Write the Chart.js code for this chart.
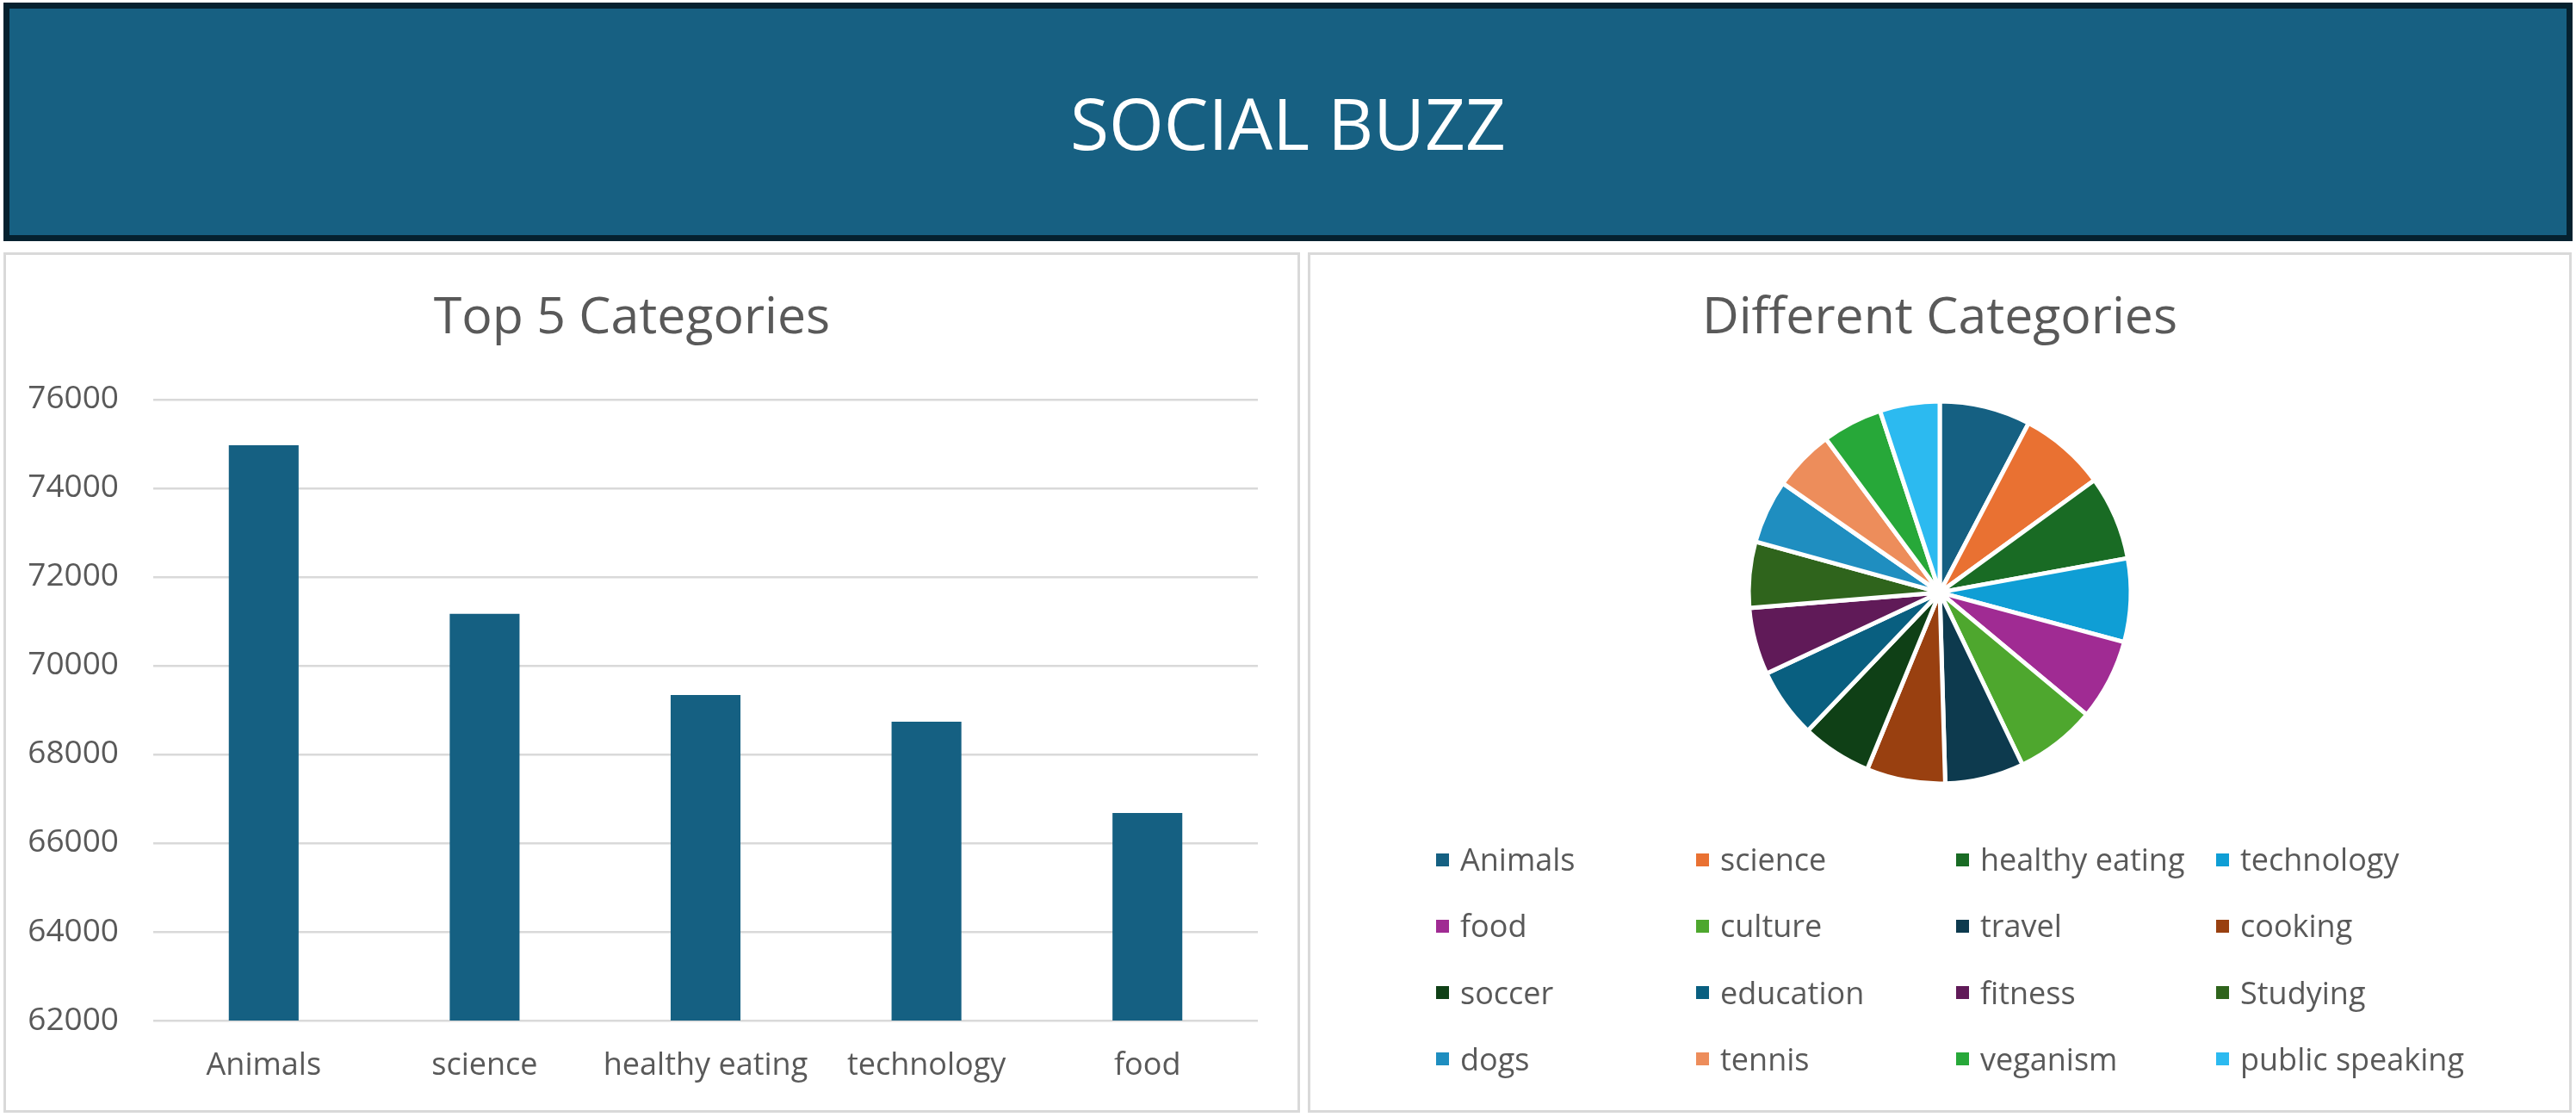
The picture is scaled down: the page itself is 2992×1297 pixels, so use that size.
<!DOCTYPE html>
<html><head><meta charset="utf-8">
<script src="https://cdn.jsdelivr.net/npm/chart.js@4.4.1/dist/chart.umd.min.js"></script>
<style>
html,body{margin:0;padding:0;background:#fff;}
body{width:2992px;height:1297px;position:relative;overflow:hidden;font-family:'Open Sans',sans-serif;}
#header{position:absolute;left:4px;top:3px;width:2984px;height:277px;box-sizing:border-box;background:#176082;border:7px solid #05212f;display:flex;align-items:center;justify-content:center;color:#fff;font-size:82px;}
.panel{position:absolute;top:293px;height:999px;box-sizing:border-box;border:3px solid #d9d9d9;background:#fff;}
#left{left:4px;width:1506px;}
#right{left:1519px;width:1468px;}
.panel canvas{position:absolute;left:0;top:0;}
.leg{position:absolute;height:40px;line-height:40px;display:flex;align-items:center;font-size:36px;color:#595959;white-space:nowrap;}
.leg i{display:inline-block;width:15px;height:15px;margin-right:13px;flex:none;}
</style></head>
<body>
<div id="header">SOCIAL BUZZ</div>
<div class="panel" id="left"><canvas id="bar" width="1500" height="993"></canvas></div>
<div class="panel" id="right"><canvas id="pie" width="1462" height="993"></canvas></div>
<div id="legend"></div>
<script>
const categories = ['Animals', 'science', 'healthy eating', 'technology', 'food'];
const topValues = [74965, 71168, 69339, 68738, 66676];
const yTickValues = [62000, 64000, 66000, 68000, 70000, 72000, 74000, 76000];
const pieLabels = ['Animals', 'science', 'healthy eating', 'technology', 'food', 'culture', 'travel', 'cooking', 'soccer', 'education', 'fitness', 'Studying', 'dogs', 'tennis', 'veganism', 'public speaking'];
const pieValues = [74965, 71168, 69339, 68738, 66676, 66579, 64880, 64756, 57783, 57436, 55323, 54269, 52511, 50339, 49619, 49264];
const pieColors = ['#156082', '#E97132', '#196B24', '#0F9ED5', '#A02B93', '#4EA72E', '#0D3A4E', '#994010', '#0F4016', '#095F80', '#601A58', '#2F641C', '#1F8EC0', '#ED8D5B', '#27A839', '#2CBAF0'];
const barColor = '#156082';

Chart.defaults.font.family = "'Open Sans', sans-serif";
Chart.defaults.color = '#595959';

const titleOpts = (text) => ({
  display: true, text: text, color: '#595959',
  font: {size: 59, weight: 'normal', lineHeight: 1.2},
  padding: {top: 39, bottom: 58}
});

new Chart(document.getElementById('bar'), {
  type: 'bar',
  data: {labels: categories, datasets: [{data: topValues, backgroundColor: barColor, barPercentage: 0.316, categoryPercentage: 1}]},
  options: {
    responsive: false, animation: false, devicePixelRatio: 1,
    layout: {padding: {left: 0, right: 46, top: 0, bottom: 0}},
    plugins: {legend: {display: false}, tooltip: {enabled: false}, title: titleOpts('Top 5 Categories')},
    scales: {
      x: {
        grid: {display: false}, border: {display: false},
        ticks: {color: '#595959', font: {size: 36}, padding: 23, maxRotation: 0, autoSkip: false},
        afterFit(s) { s.height = 104; }
      },
      y: {
        min: 62000, max: 76000,
        grid: {color: '#d9d9d9', lineWidth: 2.5, drawTicks: false},
        border: {display: false},
        afterBuildTicks(s) { s.ticks = yTickValues.map(v => ({value: v})); },
        ticks: {color: '#595959', font: {size: 37}, padding: 40, callback: v => String(v)},
        afterFit(s) { s.width = 171; }
      }
    }
  }
});

new Chart(document.getElementById('pie'), {
  type: 'pie',
  data: {labels: pieLabels, datasets: [{data: pieValues, backgroundColor: pieColors, borderColor: '#ffffff', borderWidth: 5, radius: 222}]},
  options: {
    responsive: false, animation: false, devicePixelRatio: 1,
    layout: {padding: {bottom: 377}},
    plugins: {legend: {display: false}, tooltip: {enabled: false}, title: titleOpts('Different Categories')}
  }
});

const legend = document.getElementById('legend');
pieLabels.forEach((lab, i) => {
  const col = i % 4, row = Math.floor(i / 4);
  const d = document.createElement('div');
  d.className = 'leg';
  d.style.left = (1668 + col * 302) + 'px';
  d.style.top = (978 + row * 77.3) + 'px';
  const box = document.createElement('i');
  box.style.background = pieColors[i];
  d.appendChild(box);
  d.appendChild(document.createTextNode(lab));
  legend.appendChild(d);
});
</script>
</body></html>
